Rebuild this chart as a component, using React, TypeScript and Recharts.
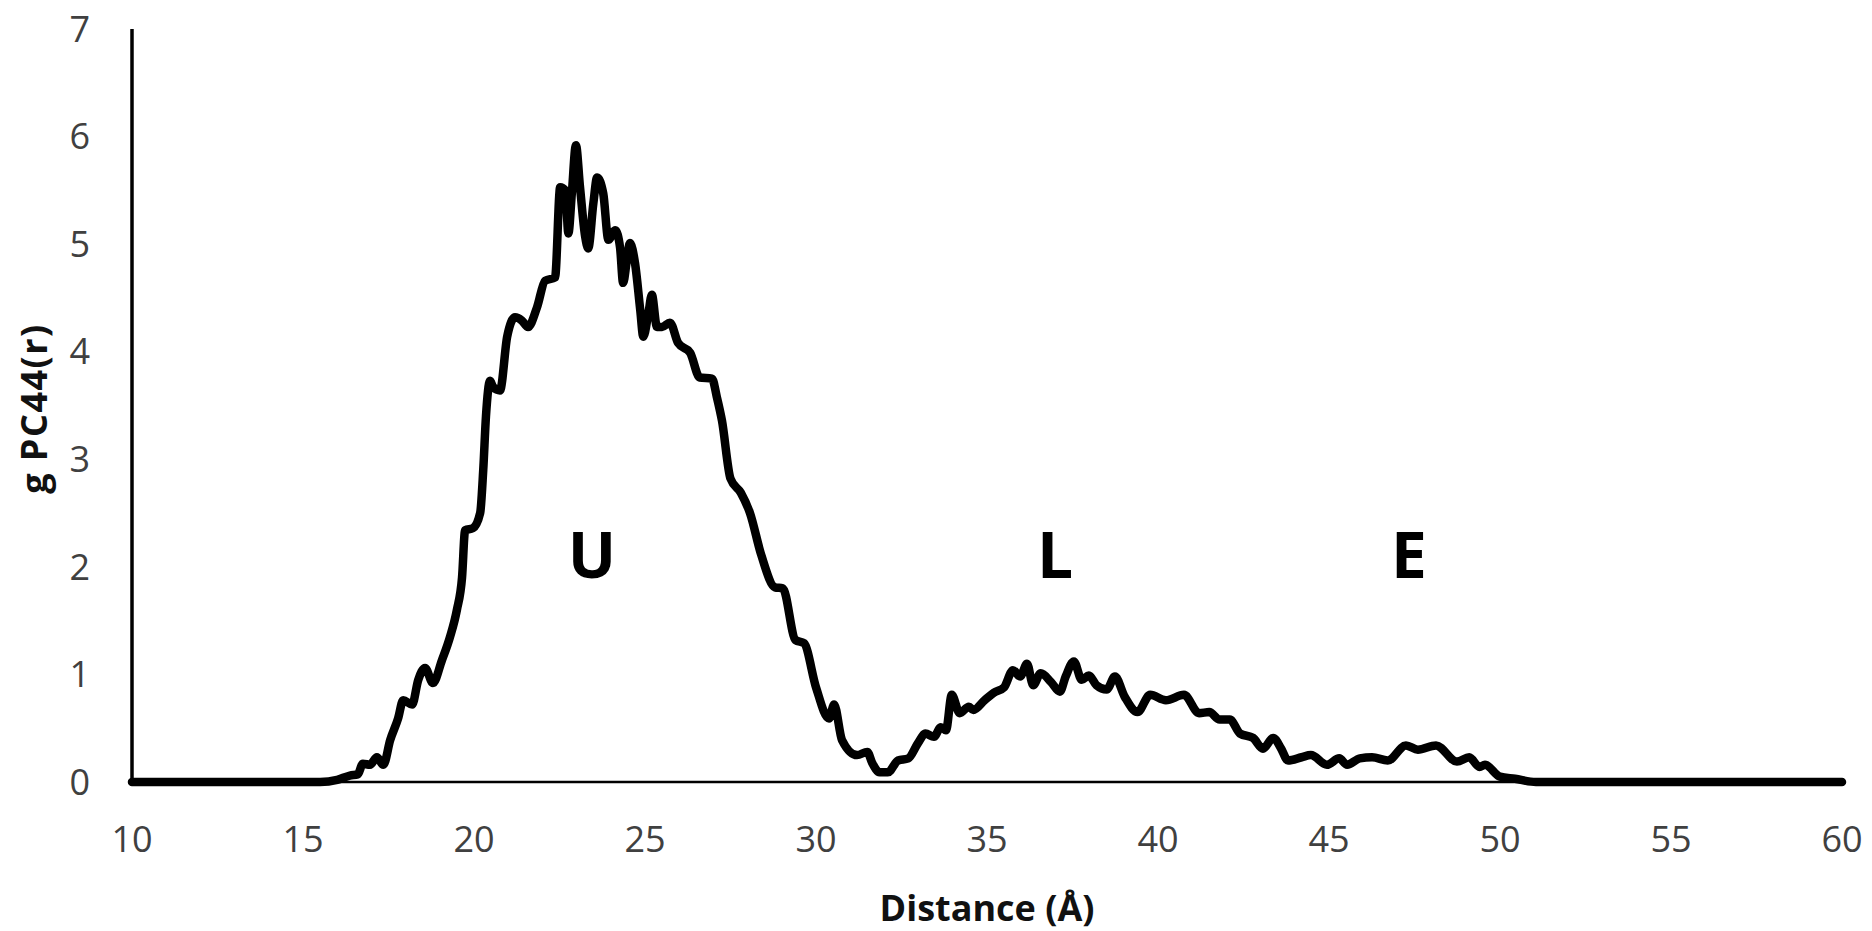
import React from 'react';
import { LineChart, Line, XAxis, YAxis, ReferenceDot } from 'recharts';

const distance = [
  10, 15.5, 16.0, 16.37, 16.6, 16.75, 16.96, 17.16, 17.35, 17.55, 17.78, 17.93, 18.19, 18.37, 18.57, 18.8,
  19.06, 19.3, 19.5, 19.65, 19.74, 19.97, 20.18, 20.27, 20.35, 20.47, 20.56, 20.76, 20.97, 21.2, 21.4, 21.58,
  21.84, 22.08, 22.37, 22.52, 22.67, 22.76, 22.86, 22.98, 23.1, 23.25, 23.34, 23.49, 23.6, 23.78, 23.93, 24.13,
  24.27, 24.36, 24.47, 24.56, 24.71, 24.86, 24.95, 25.1, 25.2, 25.35, 25.5, 25.73, 25.97, 26.32, 26.6, 26.96,
  27.1, 27.25, 27.5, 27.8, 28.07, 28.4, 28.8, 29.03, 29.4, 29.65, 30.0, 30.38, 30.53, 30.76, 31.2, 31.5,
  31.64, 31.86, 32.1, 32.4, 32.7, 32.98, 33.2, 33.45, 33.65, 33.8, 33.97, 34.2, 34.47, 34.6, 34.93, 35.2,
  35.5, 35.76, 35.97, 36.17, 36.35, 36.57, 36.87, 37.13, 37.3, 37.54, 37.77, 37.98, 38.2, 38.5, 38.74, 39.03,
  39.4, 39.77, 40.23, 40.76, 41.2, 41.5, 41.8, 42.1, 42.4, 42.78, 43.07, 43.37, 43.6, 43.8, 44.2, 44.47,
  44.94, 45.3, 45.53, 45.9, 46.26, 46.72, 47.25, 47.6, 48.13, 48.74, 49.1, 49.4, 49.56, 50.0, 50.44, 51.05, 60,
];

const gPC44 = [
  0, 0, 0.02, 0.06, 0.07, 0.17, 0.16, 0.23, 0.16, 0.39, 0.59, 0.76, 0.72, 0.95, 1.06, 0.92,
  1.13, 1.35, 1.6, 1.9, 2.34, 2.36, 2.5, 2.9, 3.4, 3.73, 3.67, 3.64, 4.14, 4.32, 4.29, 4.23,
  4.41, 4.66, 4.69, 5.53, 5.5, 5.1, 5.47, 5.92, 5.53, 5.07, 4.96, 5.38, 5.62, 5.47, 5.04, 5.13,
  4.97, 4.64, 4.85, 5.01, 4.82, 4.39, 4.14, 4.36, 4.53, 4.23, 4.23, 4.27, 4.08, 3.99, 3.76, 3.75,
  3.58, 3.36, 2.82, 2.69, 2.5, 2.11, 1.81, 1.8, 1.32, 1.29, 0.88, 0.59, 0.72, 0.39, 0.25, 0.28,
  0.18, 0.09, 0.09, 0.2, 0.22, 0.36, 0.45, 0.42, 0.51, 0.48, 0.81, 0.64, 0.7, 0.67, 0.76, 0.83,
  0.88, 1.04, 0.98, 1.1, 0.9, 1.01, 0.93, 0.84, 0.98, 1.12, 0.95, 0.99, 0.9, 0.86, 0.98, 0.79,
  0.65, 0.81, 0.76, 0.81, 0.64, 0.65, 0.58, 0.58, 0.45, 0.41, 0.31, 0.41, 0.31, 0.2, 0.23, 0.25,
  0.16, 0.22, 0.16, 0.22, 0.23, 0.2, 0.34, 0.3, 0.34, 0.19, 0.23, 0.14, 0.16, 0.05, 0.03, 0, 0,
];

const xTicks = [10, 15, 20, 25, 30, 35, 40, 45, 50, 55, 60];
const yTicks = [0, 1, 2, 3, 4, 5, 6, 7];

const regionNames = ['U', 'L', 'E'];
const regionX = [23.45, 36.99, 47.34];
const regionY = [2.11, 2.11, 2.11];

const xTitle = 'Distance (Å)';
const yTitle = 'g PC44(r)';

const data = distance.map((r, i) => ({ r, g: gPC44[i] }));

const FONT = "'Open Sans', 'DejaVu Sans', sans-serif";

const YTitle = (props: any) => {
  const vb = props.viewBox || { x: 0, y: 0, width: 0, height: 0 };
  const cx = vb.x + 33;
  const cy = vb.y + vb.height / 2 + 3;
  return (
    <text
      x={cx}
      y={cy}
      transform={`rotate(-90 ${cx} ${cy})`}
      textAnchor="middle"
      dominantBaseline="central"
      fontFamily={FONT}
      fontSize={36}
      fontWeight={700}
      letterSpacing={1.5}
      fill="#111"
    >
      {yTitle}
    </text>
  );
};

export default function App() {
  return (
    <div style={{ position: 'absolute', left: 0, top: 0, width: 1872, height: 931, background: '#fff' }}>
      <LineChart width={1872} height={931} data={data} margin={{ top: 29, right: 30, left: 0, bottom: 0 }}>
        <XAxis
          dataKey="r"
          type="number"
          domain={[10, 60]}
          ticks={xTicks}
          interval={0}
          height={149}
          tickLine={false}
          tickMargin={38}
          axisLine={{ stroke: '#000', strokeWidth: 2.5 }}
          tick={{ fontSize: 36, fill: '#404040', fontFamily: FONT }}
          label={{
            value: xTitle,
            position: 'insideBottom',
            offset: 10,
            fontSize: 36,
            fontWeight: 700,
            fill: '#111',
            fontFamily: FONT,
          }}
        />
        <YAxis
          type="number"
          domain={[0, 7]}
          ticks={yTicks}
          interval={0}
          width={132}
          tickLine={false}
          tickMargin={36}
          axisLine={{ stroke: '#000', strokeWidth: 3.5 }}
          tick={{ fontSize: 36, fill: '#404040', fontFamily: FONT }}
          label={{ content: YTitle }}
        />
        <Line
          dataKey="g"
          type="monotoneX"
          stroke="#000"
          strokeWidth={8.5}
          strokeLinejoin="round"
          strokeLinecap="round"
          dot={false}
          activeDot={false}
          isAnimationActive={false}
        />
        {regionNames.map((name, i) => (
          <ReferenceDot
            key={name}
            x={regionX[i]}
            y={regionY[i]}
            r={1}
            fill="none"
            stroke="none"
            label={{
              value: name,
              position: 'center',
              fontSize: 64,
              fontWeight: 700,
              fill: '#000',
              fontFamily: FONT,
            }}
          />
        ))}
      </LineChart>
    </div>
  );
}
